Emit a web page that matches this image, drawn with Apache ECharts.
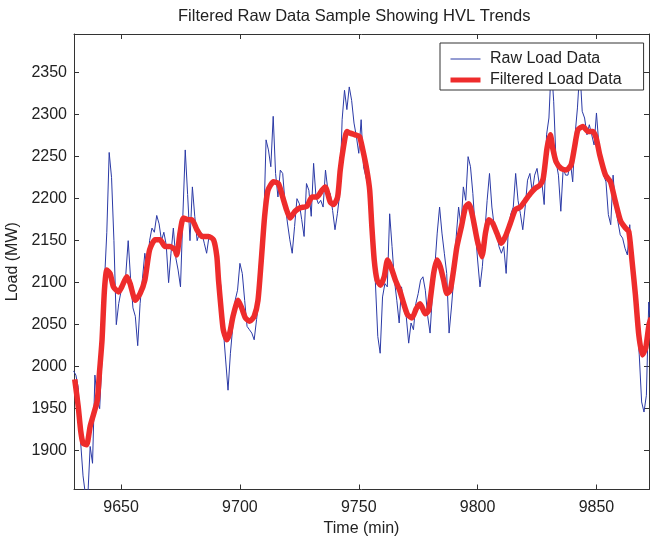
<!DOCTYPE html>
<html>
<head>
<meta charset="utf-8">
<script src="https://cdn.jsdelivr.net/npm/echarts@6/dist/echarts.min.js"></script>
<style>
  html, body { margin: 0; padding: 0; background: #fff; }
  #chart { width: 650px; height: 541px; }
</style>
</head>
<body>
<div id="chart"></div>
<script>
  // raw samples, one per minute starting at rawStart
  const rawStart = 9630
  const rawLoad = [
    1995, 1990, 1975, 1910, 1870, 1848, 1845, 1905, 1885, 1990,
    1960, 1950, 2010, 2100, 2160, 2255, 2225, 2150, 2050, 2075,
    2090, 2095, 2110, 2150, 2105, 2070, 2060, 2025, 2075, 2105,
    2135, 2115, 2150, 2165, 2160, 2180, 2170, 2150, 2160, 2145,
    2100, 2135, 2165, 2130, 2115, 2095, 2180, 2258, 2205, 2150,
    2214, 2179, 2150, 2159, 2159, 2147, 2135, 2155, 2155, 2150,
    2147, 2119, 2095, 2045, 2008, 1972, 2016, 2048, 2079, 2091,
    2123, 2111, 2079, 2048, 2044, 2040, 2032, 2056, 2079, 2119,
    2167, 2270, 2258, 2238, 2298, 2230, 2202, 2234, 2230, 2194,
    2171, 2151, 2135, 2167, 2200, 2194, 2175, 2155, 2218, 2210,
    2179, 2242, 2202, 2194, 2198, 2190, 2234, 2210, 2206, 2186,
    2163, 2182, 2206, 2294, 2329, 2306, 2333, 2317, 2290, 2274,
    2254, 2294, 2238, 2226, 2214, 2186, 2155, 2100, 2036, 2016,
    2083, 2099, 2095, 2182, 2143, 2103, 2079, 2052, 2095, 2067,
    2059, 2028, 2052, 2044, 2075, 2087, 2103, 2107, 2091, 2060,
    2040, 2087, 2119, 2159, 2190, 2159, 2135, 2111, 2040, 2071,
    2107, 2155, 2190, 2167, 2214, 2198, 2250, 2238, 2206, 2163,
    2127, 2095, 2119, 2159, 2198, 2230, 2190, 2167, 2159, 2143,
    2135, 2143, 2111, 2167, 2182, 2190, 2230, 2198, 2182, 2163,
    2190, 2222, 2230, 2208, 2228, 2236, 2216, 2220, 2193, 2276,
    2296, 2360, 2316, 2244, 2228, 2185, 2236, 2228, 2228, 2244,
    2220, 2276, 2308, 2355, 2304, 2296, 2276, 2288, 2276, 2264,
    2302, 2264, 2244, 2228, 2220, 2181, 2169, 2228, 2189, 2173,
    2157, 2153, 2141, 2133, 2169, 2125, 2093, 2054, 2014, 1958,
    1946, 1966, 2077, 2046
  ]

  // filtered curve, read at its turning points
  const filteredTime = [
    9630.5, 9632, 9633, 9634, 9635.5, 9637, 9638.5, 9640, 9641, 9642,
    9643, 9644, 9645.4, 9646.8, 9649, 9650.3, 9652.4, 9653.8, 9656, 9658,
    9660, 9662, 9664.3, 9666.4, 9668.5, 9670.6, 9672.7, 9673.4, 9674.8, 9676.2,
    9678.4, 9679.8, 9681.9, 9684, 9686.8, 9688.9, 9690.3, 9691, 9692, 9693,
    9694.5, 9695.7, 9697.1, 9699.2, 9700.6, 9702.3, 9704.1, 9706, 9707.6, 9709,
    9710.4, 9711.8, 9714.1, 9716.2, 9718.4, 9719.7, 9721.1, 9723.2, 9725.3, 9728.2,
    9730.3, 9732.4, 9734.5, 9735.9, 9738, 9739.4, 9741.1, 9742.2, 9743.6, 9745,
    9746.4, 9748.5, 9750.3, 9751.7, 9753.4, 9754.6, 9755.5, 9756.5, 9757.7, 9759.1,
    9760.7, 9762.1, 9763.5, 9765.4, 9767.2, 9768.9, 9770.5, 9772.4, 9774.2, 9775.8,
    9778, 9779.4, 9781.5, 9782.9, 9784.3, 9785.7, 9787.1, 9788.5, 9789.9, 9791.3,
    9793.2, 9794.9, 9796.3, 9797.9, 9799.8, 9801.8, 9803.3, 9804.7, 9806.3, 9808.1,
    9810, 9811.7, 9813.8, 9815.9, 9818, 9820.1, 9822.2, 9824.1, 9826.2, 9827.6,
    9829.2, 9830.6, 9831.6, 9833, 9835.1, 9837.2, 9839.3, 9840.7, 9842.2, 9844.3,
    9846.4, 9848.5, 9849.9, 9851.4, 9853.8, 9855.9, 9858, 9860.2, 9862.2, 9863.6,
    9865, 9866.4, 9867.8, 9869.3, 9870.7, 9872.1, 9873
  ]
  const filteredLoad = [
    1985, 1952, 1924, 1909, 1907, 1929, 1944, 1960, 1996, 2032,
    2091, 2115, 2111, 2095, 2089, 2095, 2107, 2099, 2079, 2087,
    2103, 2139, 2151, 2151, 2143, 2143, 2139, 2133, 2159, 2177,
    2175, 2175, 2163, 2155, 2155, 2151, 2131, 2103, 2071, 2044,
    2032, 2040, 2060, 2079, 2071, 2058, 2054, 2060, 2079, 2127,
    2179, 2210, 2220, 2218, 2198, 2186, 2177, 2185, 2189, 2191,
    2202, 2202, 2210, 2214, 2196, 2193, 2202, 2234, 2262, 2280,
    2278, 2276, 2274, 2258, 2234, 2210, 2167, 2127, 2103, 2097,
    2107, 2127, 2119, 2103, 2091, 2075, 2062, 2058, 2069, 2075,
    2063, 2067, 2111, 2127, 2119, 2103, 2087, 2091, 2115, 2143,
    2167, 2190, 2194, 2179, 2151, 2131, 2159, 2175, 2171, 2159,
    2147, 2155, 2171, 2187, 2190, 2198, 2206, 2212, 2216, 2224,
    2260, 2276, 2260, 2244, 2236, 2234, 2240, 2260, 2282, 2286,
    2280, 2280, 2272, 2252, 2228, 2220, 2196, 2173, 2165, 2161,
    2125, 2085, 2038, 2014, 2022, 2050, 2058
  ]

  const xTicks = [9650, 9700, 9750, 9800, 9850]
  const yTicks = [1900, 1950, 2000, 2050, 2100, 2150, 2200, 2250, 2300, 2350]

  const font = "'Liberation Sans', Arial, Helvetica, sans-serif"
  const ink = '#222'
  const rawColor = '#2b3aa6'
  const filtColor = '#ee2c2c'

  function frameAxis(pos, ticks, range, withLabels, margin) {
    return {
      type: 'value',
      position: pos,
      min: range[0],
      max: range[1],
      axisLine: { show: true, onZero: false, lineStyle: { color: '#333', width: 1 } },
      axisTick: { show: true, inside: true, length: 5, customValues: ticks, lineStyle: { color: '#333' } },
      axisLabel: {
        show: withLabels,
        customValues: ticks,
        margin: margin,
        color: ink,
        fontSize: 16,
        fontFamily: font,
        formatter: v => String(v)
      },
      splitLine: { show: false }
    }
  }

  const chart = echarts.init(document.getElementById('chart'), null, { renderer: 'canvas' })

  const xBottom = frameAxis('bottom', xTicks, [9630.2, 9872.1], true, 10)
  xBottom.name = 'Time (min)'
  xBottom.nameLocation = 'middle'
  xBottom.nameGap = 29
  xBottom.nameTextStyle = { fontSize: 16, color: ink, fontFamily: font }

  const yLeft = frameAxis('left', yTicks, [1853.8, 2396], true, 7)
  yLeft.name = 'Load (MW)'
  yLeft.nameLocation = 'middle'
  yLeft.nameGap = 43
  yLeft.nameTextStyle = { fontSize: 16, color: ink, fontFamily: font }

  chart.setOption({
    animation: false,
    backgroundColor: '#fff',
    title: {
      text: 'Filtered Raw Data Sample Showing HVL Trends',
      left: 173,
      top: 3,
      textStyle: { fontSize: 16.5, fontWeight: 'normal', color: ink, fontFamily: font }
    },
    legend: {
      data: [
        { name: 'Raw Load Data', lineStyle: { width: 1, color: rawColor } },
        { name: 'Filtered Load Data', lineStyle: { width: 5, color: filtColor } }
      ],
      orient: 'vertical',
      left: 440,
      top: 43,
      itemWidth: 30,
      itemHeight: 14,
      itemGap: 3,
      padding: [7, 22, 1, 8],
      backgroundColor: '#fff',
      borderColor: '#333',
      borderWidth: 1,
      itemStyle: { opacity: 0 },
      formatter: name => ' ' + name,
      textStyle: { fontSize: 16, color: ink, fontFamily: font, lineHeight: 18 }
    },
    grid: { left: 74, top: 34, width: 575, height: 455.5, containLabel: false, outerBoundsMode: 'none' },
    xAxis: [xBottom, frameAxis('top', xTicks, [9630.2, 9872.1], false, 7)],
    yAxis: [yLeft, frameAxis('right', yTicks, [1853.8, 2396], false, 7)],
    series: [
      {
        name: 'Raw Load Data',
        type: 'line',
        symbol: 'none',
        data: rawLoad.map((v, i) => [rawStart + i, v]),
        lineStyle: { color: rawColor, width: 1 },
        itemStyle: { color: rawColor },
        z: 2
      },
      {
        name: 'Filtered Load Data',
        type: 'line',
        symbol: 'none',
        smooth: 0.2,
        data: filteredTime.map((t, i) => [t, filteredLoad[i]]),
        lineStyle: { color: filtColor, width: 5.5 },
        itemStyle: { color: filtColor },
        z: 3
      }
    ]
  })
</script>
</body>
</html>
